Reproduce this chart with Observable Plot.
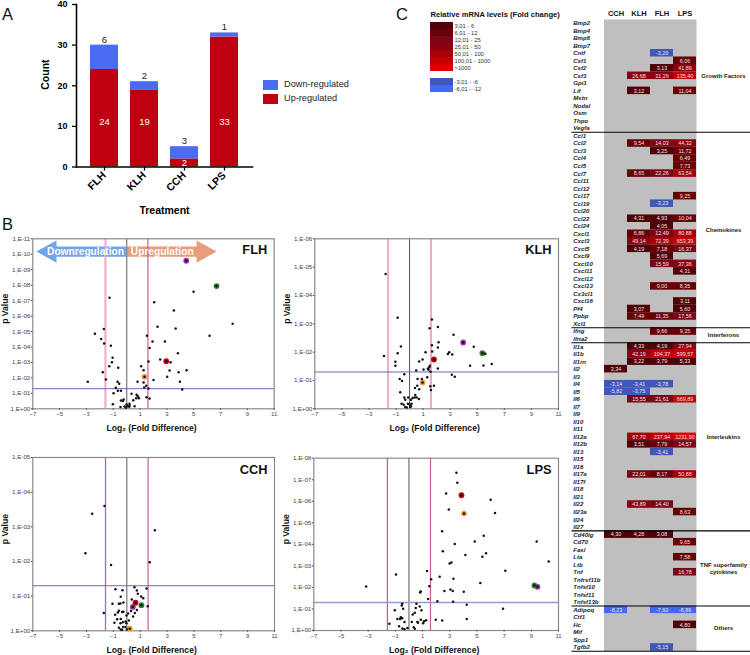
<!DOCTYPE html>
<html><head><meta charset="utf-8">
<script src="https://cdn.jsdelivr.net/npm/d3@7"></script>
<script src="https://cdn.jsdelivr.net/npm/@observablehq/plot@0.6"></script>
<style>
html,body{margin:0;padding:0;background:#fff}
#root{position:relative;width:750px;height:655px;overflow:hidden;font-family:"Liberation Sans",Arial,sans-serif}
#root>svg{position:absolute;max-width:none!important}
.let{position:absolute;font-size:16.5px;line-height:16px;color:#111}
.sw{position:absolute;width:15px;height:10px}
.lg{position:absolute;font-size:9.2px;line-height:10px;color:#222}
</style></head><body><div id="root"></div>
<script>
// ---------- Panel A ----------
const treatments = ["FLH","KLH","CCH","LPS"];
const upBars = [24,19,2,32];
const downBars = [6,2,3,1];
const upLabels = [24,19,2,33];
const downLabels = [6,2,3,1];

// ---------- Panel B: [log2 fold difference, -log10 p] ----------
const cutFold = 1.585, cutP = 1.3;
const flhPoints = [[4.99,7.57],[2.05,6.9],[-1.28,7.18],[3.52,6.36],[7.9,5.5],[2.3,5.31],[3.65,5.2],[-1.7,5.16],[-2.37,4.85],[1.51,4.72],[6.18,4.72],[-1.9,4.51],[1.93,4.36],[2.85,4.36],[-1.68,4.23],[-1.18,4.08],[1.71,3.93],[3.82,3.6],[-1.05,3.3],[-1.1,3.02],[2.5,3.19],[3.27,3.02],[1.63,3.06],[-1.3,2.76],[1.08,2.76],[-0.63,2.65],[1.26,2.5],[-1.78,2.37],[3.2,2.48],[4.47,2.5],[3.87,2.37],[3.02,2.07],[-1.55,1.9],[2,1.86],[-2.9,1.75],[0.81,1.75],[1.26,1.7],[3.97,1.75],[-0.68,1.75],[-0.56,1.62],[1.46,1.49],[1.31,1.38],[-0.81,1.36],[1.63,1.32],[-0.66,1.16],[-0.43,1.16],[4.14,1.25],[-0.98,1.01],[0.36,0.97],[0.74,0.91],[0.84,0.82],[1.48,0.75],[1.71,0.67],[0.71,0.69],[0.91,0.69],[0.49,0.56],[-0.23,0.6],[-0.43,0.54],[-0.28,0.5],[-1.03,0.3],[-0.01,0.28],[0.21,0.32],[0.21,0.22],[0.59,0.17],[-0.16,0.15],[0.04,0.17],[-0.46,0.11],[0.19,0.13],[-0.06,0.06]];
const flhMarked = [[4.44,9.58],[6.7,7.94],[2.95,3.08],[1.33,2.07]];
const klhPoints = [[-1.77,4.76],[-0.88,3.21],[1.65,3.15],[2.09,2.89],[1.48,2.84],[3.25,2.61],[2.14,2.35],[-0.64,2.2],[1.65,2.24],[2.09,2.16],[4.74,2.19],[1.67,2.02],[1.18,2],[-0.88,1.96],[-1.89,1.86],[2.93,2],[2.83,1.93],[3.15,1.92],[5.6,1.94],[0.96,1.74],[0.71,1.67],[-1.05,1.66],[-1.05,1.52],[6.07,1.58],[4.47,1.52],[5.46,1.53],[1.5,1.52],[1.45,1.47],[1.35,1.41],[0.49,1.35],[1.03,1.39],[1.4,1.38],[2.09,1.42],[1.55,1.31],[-0.39,1.22],[3.12,1.2],[3.34,1.13],[1.3,1.11],[-0.73,1.05],[-0.56,0.98],[0.59,1.05],[0.91,1.05],[0.57,0.81],[0.4,0.73],[0.71,0.69],[1.53,0.8],[1.8,0.81],[1.58,0.66],[-0.69,0.58],[0.42,0.49],[-0.39,0.4],[-0.1,0.4],[-0.32,0.32],[0.22,0.38],[0.1,0.32],[0.37,0.4],[0.52,0.4],[0.69,0.35],[-0.59,0.18],[-0.44,0.14],[-0.32,0.06],[-0.2,0.05],[-0.12,0.18],[0,0.15],[0.15,0.18],[0.05,0.06],[0.1,0.09]];
const klhMarked = [[3.96,2.34],[5.38,1.96],[1.8,1.74],[0.96,0.93]];
const cchPoints = [[-1.66,3.6],[-2.58,3.38],[2.09,2.9],[-3.08,2.24],[1.71,1.98],[-1.17,1.9],[-0.84,1.2],[-0.32,1.17],[0.57,1.26],[0.75,1.16],[0.82,1.07],[1.47,1.22],[0.37,0.9],[1.07,0.99],[1.22,0.94],[-0.45,0.98],[-1.07,0.78],[-0.59,0.78],[-0.47,0.79],[-0.25,0.82],[1.56,0.71],[-1.71,0.51],[-0.59,0.58],[-0.67,0.53],[-0.35,0.54],[-0.25,0.55],[-0.87,0.46],[0.32,0.57],[0.75,0.6],[0.6,0.51],[0.1,0.5],[-0.02,0.44],[0.47,0.41],[-0.72,0.33],[-0.92,0.23],[-0.45,0.34],[-0.3,0.25],[-0.1,0.27],[0.15,0.3],[-0.03,0.22],[-0.47,0.22],[-0.59,0.09],[-0.45,0.04],[-0.27,0.11],[-0.1,0.11],[0,0.04],[-0.35,0.03]];
const cchMarked = [[0.45,0.69],[1.09,0.74],[0.65,0.81],[0.22,0.06]];
const lpsPoints = [[3.49,7.32],[3.56,6.86],[2.73,6.36],[6.01,6.07],[2.93,5.62],[6.33,5.46],[2.44,4.61],[5.5,4.4],[4.84,4.13],[3.37,4.02],[2.49,3.68],[5.67,3.59],[5.4,3.42],[4.15,3.51],[3.12,3.16],[2.99,3.11],[7.09,2.77],[1.33,2.76],[-0.95,2.6],[2.26,2.49],[1.63,2.38],[3.27,2.4],[5.25,2.21],[-3.15,2.04],[1.5,2.06],[3.05,1.9],[3.22,1.83],[2.61,1.83],[4.03,1.8],[0.87,1.81],[0.82,1.76],[1.41,1.46],[2.09,1.36],[3.25,1.33],[-0.5,1.24],[-0.53,1.16],[0.55,1.24],[4.25,1.19],[0.79,1.11],[0.5,1.04],[-0.43,1.01],[0.92,0.94],[-1.04,0.94],[6.92,1.01],[0.43,0.82],[0.28,0.74],[-0.6,0.62],[-0.5,0.57],[-0.85,0.53],[-0.65,0.53],[4.25,0.53],[-0.33,0.4],[0.21,0.39],[0.62,0.39],[0.67,0.36],[0.87,0.5],[1.11,0.43],[1.26,0.48],[1.04,0.34],[1.97,0.5],[2.44,0.46],[-1.44,0.31],[-0.73,0.2],[-0.48,0.09],[-0.33,0.06],[-0.11,0.12],[0.35,0.15],[0.43,0.08],[9.4,4.13],[10.28,3.2]];
const lpsMarked = [[9.45,2.03],[9.23,2.09],[3.86,6.28],[4.05,5.43]];
const markedColors = ["#9a2ea8","#2e7d32","#c40012","#f0a030"];
const downArrow = [[0,10.5],[-5.23,10.5],[-5.23,10.89],[-6.73,10.18],[-5.23,9.45],[-5.23,9.84],[0,9.84]];
const upArrow = [[0,10.5],[5.21,10.5],[5.21,10.89],[6.7,10.18],[5.21,9.45],[5.21,9.84],[0,9.84]];

// ---------- Panel C ----------
const columns = ["CCH","KLH","FLH","LPS"];
const genes = ["Bmp2","Bmp4","Bmp6","Bmp7","Cntf","Csf1","Csf2","Csf3","Gpi1","Lif","Mstn","Nodal","Osm","Thpo","Vegfa",
"Ccl1","Ccl2","Ccl3","Ccl4","Ccl5","Ccl7","Ccl11","Ccl12","Ccl17","Ccl19","Ccl20","Ccl22","Ccl24","Cxcl1","Cxcl3","Cxcl5","Cxcl9","Cxcl10","Cxcl11","Cxcl12","Cxcl13","Cx3cl1","Cxcl16","Pf4","Ppbp","Xcl1",
"Ifng","Ifna2",
"Il1a","Il1b","Il1rn","Il2","Il3","Il4","Il5","Il6","Il7","Il9","Il10","Il11","Il12a","Il12b","Il13","Il15","Il16","Il17a","Il17f","Il18","Il21","Il22","Il23a","Il24","Il27",
"Cd40lg","Cd70","Fasl","Lta","Ltb","Tnf","Tnfrsf11b","Tnfsf10","Tnfsf11","Tnfsf13b",
"Adipoq","Ctf1","Hc","Mif","Spp1","Tgfb2"];
const foldCCH = {Il2:3.34,Il4:-3.14,Il5:-5.82,Cd40lg:4.30,Adipoq:-8.23};
const foldKLH = {Csf3:26.68,Lif:3.12,Ccl2:9.54,Ccl7:8.65,Ccl22:4.31,Cxcl1:6.86,Cxcl3:49.14,Cxcl5:4.19,Pf4:3.07,Ppbp:7.49,Il1a:4.33,Il1b:42.19,Il1rn:3.22,Il4:-3.41,Il5:-3.75,Il6:15.55,Il12a:67.70,Il12b:3.51,Il17a:22.01,Il22:43.89,Cd40lg:4.28};
const foldFLH = {Cntf:-3.20,Csf2:3.13,Csf3:31.29,Ccl2:14.03,Ccl3:3.25,Ccl7:22.26,Ccl19:-3.23,Ccl22:4.93,Ccl24:4.05,Cxcl1:12.49,Cxcl3:72.39,Cxcl5:7.18,Cxcl9:5.69,Cxcl10:15.59,Cxcl13:9.00,Ppbp:11.35,Ifng:9.66,Il1a:4.19,Il1b:104.37,Il1rn:3.79,Il4:-3.78,Il6:21.61,Il12a:237.94,Il12b:7.79,Il13:-3.41,Il17a:8.17,Il22:14.40,Cd40lg:3.08,Adipoq:-7.60,Tgfb2:-5.15};
const foldLPS = {Csf1:6.06,Csf2:41.89,Csf3:135.40,Lif:11.04,Ccl2:44.32,Ccl3:11.72,Ccl4:6.49,Ccl5:7.73,Ccl7:63.54,Ccl17:9.25,Ccl22:10.04,Cxcl1:80.88,Cxcl3:653.39,Cxcl5:16.37,Cxcl10:37.36,Cxcl11:4.31,Cxcl13:8.35,Cxcl16:3.11,Pf4:5.60,Ppbp:17.56,Ifng:9.35,Il1a:27.94,Il1b:599.57,Il1rn:5.33,Il6:669.89,Il12a:1231.90,Il12b:14.57,Il17a:50.88,Il23a:8.63,Cd70:9.65,Lta:7.58,Tnf:16.78,Adipoq:-8.86,Hc:4.80};
const foldByColumn = {CCH:foldCCH,KLH:foldKLH,FLH:foldFLH,LPS:foldLPS};
const sepAfter = ["Vegfa","Xcl1","Ifna2","Il27","Tnfsf13b","Tgfb2"];
const groupsOnRow = [["Growth Factors","Csf3"],["Interleukins","Il12a"],["TNF superfamily","Ltb"],["cytokines","Tnf"]];
const groupsBetweenRows = [["Chemokines","Ccl24"],["Interferons","Ifng"],["Others","Hc"]];
const legendLabels = ["3,01 - 6","6,01 - 12","12,01 - 25","25,01 - 50","50,01 - 100","100,01 - 1000",">1000"," ","-3,01 - -6","-6,01 - -12"];
const legendColors = ["#4f0208","#680006","#7a0616","#8c0010","#a60008","#c40004","#dd0000","transparent","#3f57b8","#4568f2"];
const heatDomain = [-6,0,6,12,25,50,100,1000];
const heatRange = ["#4568f2","#3f57b8","#4f0208","#680006","#7a0616","#8c0010","#a60008","#c40004","#dd0000"];

// ---------- helpers ----------
const root = document.getElementById("root");
const FONT = '"Liberation Sans",Arial,sans-serif';
const place = (svg,l,t)=>{svg.style.left=l+"px";svg.style.top=t+"px";root.appendChild(svg);};
const pStyle = {fontFamily:FONT,background:"transparent"};

// Panel letters
[["A",2,6],["B",2,216],["C",396,6]].forEach(([s,l,t])=>{const d=document.createElement("div");d.className="let";d.textContent=s;d.style.left=l+"px";d.style.top=t+"px";root.appendChild(d);});

// Panel A
const barTable = treatments.map((t,i)=>({t,up:upBars[i],down:downBars[i],upL:upLabels[i],downL:downLabels[i]}));
place(Plot.plot({width:390,height:215,marginLeft:76,marginRight:138,marginTop:4,marginBottom:48.5,style:pStyle,
 x:{domain:treatments,padding:0.295,label:null},y:{domain:[0,40],label:null},
 marks:[
  Plot.barY(barTable,{x:"t",y1:0,y2:"up",fill:"#bf0010"}),
  Plot.barY(barTable,{x:"t",y1:"up",y2:d=>d.up+d.down,fill:"#4a6cf0"}),
  Plot.text(barTable,{x:"t",y:d=>d.up+d.down,text:"downL",dy:-5.5,fontSize:9.5,fill:"#222"}),
  Plot.text(barTable,{x:"t",y:d=>d.up<5?d.up/2:11,text:"upL",fontSize:9.5,fill:"#fff"}),
  Plot.frame({anchor:"left",stroke:"#000",strokeWidth:1.6}),
  Plot.frame({anchor:"bottom",stroke:"#000",strokeWidth:1.6}),
  Plot.axisY({ticks:[0,10,20,30,40],label:null,fontWeight:"bold",fontSize:9,tickSize:4,strokeWidth:1.3,color:"#000"}),
  Plot.axisX({label:null,tickFormat:()=>"",tickSize:4,strokeWidth:1.3,color:"#000"}),
  Plot.text(treatments,{x:d=>d,frameAnchor:"bottom",rotate:-45,textAnchor:"end",dx:2,dy:9,fontWeight:"bold",fontSize:10.5,fill:"#000"}),
  Plot.text(["Count"],{frameAnchor:"left",rotate:-90,dx:-31,dy:4,fontWeight:"bold",fontSize:10.5,fill:"#000"}),
  Plot.text(["Treatment"],{frameAnchor:"bottom",dy:46.5,dx:0,fontWeight:"bold",fontSize:10.5,fill:"#000"})
 ]}),0,0);
[["Down-regulated","#4a6cf0",79.5],["Up-regulated","#bf0010",93.5]].forEach(([s,c,t])=>{
 const b=document.createElement("div");b.className="sw";b.style.cssText=`left:263px;top:${t}px;background:${c}`;root.appendChild(b);
 const l=document.createElement("div");l.className="lg";l.textContent=s;l.style.left="284px";l.style.top=(t-0.5)+"px";root.appendChild(l);
});

// Panel B
function volcano(o){
 const fmt = d => d===0 ? "1,E+00" : "1,E-"+String(d).padStart(2,"0");
 const ticks = d3.range(0,o.ymax+1);
 const marks = [];
 if (o.arrows) marks.push(
   Plot.line(downArrow,{x:d=>d[0],y:d=>d[1],fill:"#6fa5ea",stroke:"none"}),
   Plot.line(upArrow,{x:d=>d[0],y:d=>d[1],fill:"#e99d7d",stroke:"none"}));
 marks.push(
   Plot.ruleX([-cutFold],{stroke:o.pinkL,strokeWidth:o.pinkLw}),
   Plot.ruleX([cutFold],{stroke:o.pinkR,strokeWidth:o.pinkRw}),
   Plot.ruleX([0],{stroke:o.grey,strokeWidth:o.greyW}),
   Plot.ruleY([cutP],{stroke:o.blue,strokeWidth:o.blueW}),
   Plot.frame({stroke:"#8a8a8a",strokeWidth:1.2}),
   Plot.axisX({ticks:d3.range(-7,12,2),label:null,fontSize:6,tickSize:1.5,tickPadding:1.5,color:"#444"}),
   Plot.axisY({ticks,tickFormat:fmt,label:null,fontSize:6.2,tickSize:1.5,tickPadding:1,color:"#444"}),
   Plot.dot(o.marked,{x:d=>d[0],y:d=>d[1],r:2.9,fill:(d,i)=>i,stroke:"none"}),
   Plot.dot(o.marked,{x:d=>d[0],y:d=>d[1],r:1.3,fill:"#111"}),
   Plot.dot(o.points,{x:d=>d[0],y:d=>d[1],r:1.25,fill:"#111"}),
   Plot.text([o.name],{frameAnchor:"top-right",dx:-7,dy:o.tdy,textAnchor:"end",fontWeight:"bold",fontSize:12.8,fill:"#111"}),
   Plot.text(["p Value"],{frameAnchor:"left",rotate:-90,dx:-27.5,fontWeight:"bold",fontSize:8.6,fill:"#111"}),
   Plot.text(["Log\u2082 (Fold Difference)"],{frameAnchor:"bottom",dy:22,dx:-2,fontWeight:"bold",fontSize:8.6,fill:"#111"})
 );
 if (o.arrows) marks.push(
   Plot.text(["Downregulation"],{x:-3.07,y:10.18,fontWeight:"bold",fontSize:10.2,fill:"#fff"}),
   Plot.text(["Upregulation"],{x:2.65,y:10.18,fontWeight:"bold",fontSize:10.2,fill:"#fff"}));
 return Plot.plot({width:o.w,height:o.h,marginLeft:o.ml,marginRight:o.w-o.right,marginTop:o.mt,marginBottom:o.h-o.bottom,style:pStyle,
  x:{domain:[-7,11],label:null},y:{domain:[0,o.ymax],label:null},
  color:{type:"ordinal",domain:[0,1,2,3],range:markedColors},
  marks});
}
const thick="#efa9c9", thin="#cc5ba6";
place(volcano({name:"FLH",points:flhPoints,marked:flhMarked,ymax:11,w:285,h:220,ml:32.3,right:273.7,mt:18.3,bottom:188.3,tdy:6,arrows:true,pinkL:thick,pinkLw:2,pinkR:thin,pinkRw:1.2,grey:"#8a8a8a",greyW:1.4,blue:"#6a67bb",blueW:1}),0,220);
place(volcano({name:"KLH",points:klhPoints,marked:klhMarked,ymax:6,w:288,h:220,ml:34.3,right:278,mt:18.3,bottom:188.3,tdy:6,pinkL:thick,pinkLw:2,pinkR:thick,pinkRw:2,grey:"#555",greyW:1,blue:"#6a67bb",blueW:1}),280,220);
place(volcano({name:"CCH",points:cchPoints,marked:cchMarked,ymax:5,w:285,h:225,ml:32.3,right:274,mt:27,bottom:200.3,tdy:7,pinkL:thin,pinkLw:1.3,pinkR:thin,pinkRw:1.2,grey:"#8a8a8a",greyW:1.4,blue:"#6a67bb",blueW:1}),0,430);
place(volcano({name:"LPS",points:lpsPoints,marked:lpsMarked,ymax:8,w:288,h:225,ml:33.3,right:278,mt:27.7,bottom:200,tdy:7,pinkL:thin,pinkLw:1.3,pinkR:thin,pinkRw:1.2,grey:"#555",greyW:1,blue:"#9a98d8",blueW:1.6}),280,430);

// Panel C heat map
const heatCells = columns.flatMap(c=>Object.entries(foldByColumn[c]).map(([g,v])=>({c,g,v,label:v.toFixed(2).replace(".",",")})));
const rowH = (650.7-18.9)/genes.length;
place(Plot.plot({width:190,height:655,marginLeft:43.5,marginRight:54,marginTop:18.9,marginBottom:4.3,style:pStyle,
 x:{domain:columns,padding:0,label:null},y:{domain:genes,padding:0,label:null,axis:null},
 color:{type:"threshold",domain:heatDomain,range:heatRange},
 marks:[
  Plot.frame({fill:"#bfbfbf",stroke:"none"}),
  Plot.cell(heatCells,{x:"c",y:"g",fill:"v"}),
  Plot.text(heatCells,{x:"c",y:"g",text:"label",fill:"#f4e6e6",fontSize:5.4}),
  Plot.text(genes,{y:d=>d,frameAnchor:"left",dx:-30.8,textAnchor:"start",fontStyle:"italic",fontWeight:"bold",fontSize:6.1,fill:"#222"}),
  Plot.ruleY(sepAfter,{y:d=>d,dy:rowH/2,insetLeft:-32,insetRight:-54,stroke:"#000",strokeWidth:1.1}),
  Plot.text(groupsOnRow,{y:d=>d[1],text:d=>d[0],frameAnchor:"right",dx:27,textAnchor:"middle",fontWeight:"bold",fontSize:6,fill:"#222"}),
  Plot.text(groupsBetweenRows,{y:d=>d[1],text:d=>d[0],dy:3.7,frameAnchor:"right",dx:27,textAnchor:"middle",fontWeight:"bold",fontSize:6,fill:"#222"}),
  Plot.axisX({anchor:"top",label:null,tickSize:0,tickPadding:3,fontWeight:"bold",fontSize:7.5,color:"#111"})
 ]}),560,0);

// Panel C legend
place(Plot.plot({width:180,height:100,marginLeft:39.5,marginRight:117.5,marginTop:20,marginBottom:5.3,style:pStyle,
 x:{axis:null,domain:["k"],padding:0},y:{axis:null,domain:legendLabels,padding:0},
 marks:[
  Plot.cell(legendLabels,{x:()=>"k",y:d=>d,fill:(d,i)=>legendColors[i]}),
  Plot.text(legendLabels,{y:d=>d,frameAnchor:"right",dx:1.5,textAnchor:"start",fontSize:5.8,fill:"#333"}),
  Plot.text(["Relative mRNA levels (Fold change)"],{frameAnchor:"top-left",dx:0.5,dy:-9,textAnchor:"start",fontWeight:"bold",fontSize:7.6,fill:"#111"})
 ]}),390,0);
</script></body></html>
